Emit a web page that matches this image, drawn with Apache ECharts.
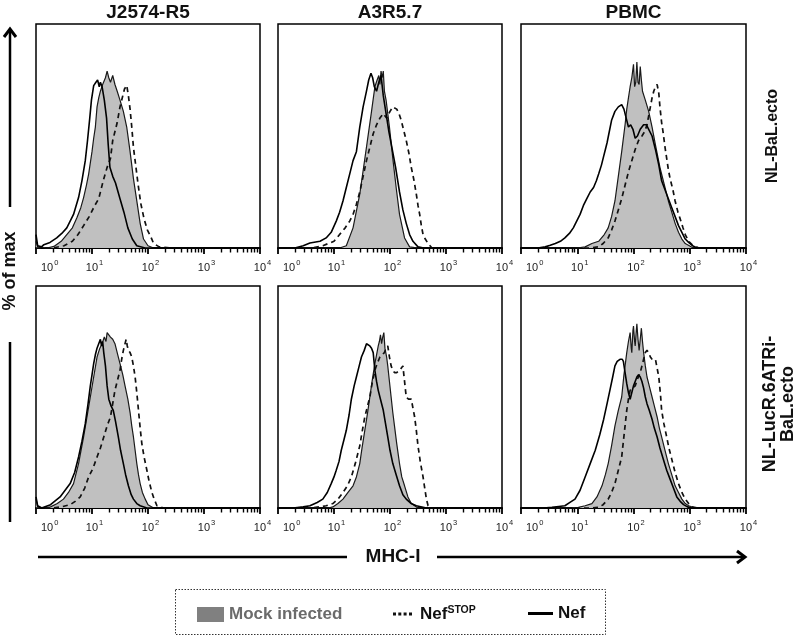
<!DOCTYPE html>
<html>
<head>
<meta charset="utf-8">
<script src="https://cdn.jsdelivr.net/npm/echarts@6/dist/echarts.min.js"></script>
<style>
html,body{margin:0;padding:0;background:#fff;}
#chart{width:795px;height:638px;}
</style>
</head>
<body>
<div id="chart"></div>
<script>
// ---------- labels ----------
const cellLines = ['J2574-R5', 'A3R5.7', 'PBMC'];
const viruses = ['NL-BaL.ecto', 'NL-LucR.6ATRi-\nBaL.ecto'];
const seriesNames = ['Mock infected', 'NefSTOP', 'Nef'];
const tickExponents = [0, 1, 2, 3, 4];          // x ticks: 10^0 ... 10^4
const minorMultipliers = [2, 3, 4, 5, 6, 7, 8, 9];
const yLabel = '% of max';
const xLabel = 'MHC-I';

// ---------- data: [log10(MHC-I), % of max] ----------
// Row 1: NL-BaL.ecto
const j2574_bal_mock = [[0,3],[0.03,0.5],[0.2,0],[0.32,0.7],[0.45,3],[0.55,6],[0.65,9],[0.73,13.5],[0.8,18],[0.85,22.5],[0.9,28],[0.94,33],[0.97,38],[1.0,43],[1.03,49],[1.06,54],[1.09,63],[1.12,67],[1.15,70],[1.19,73],[1.24,76],[1.27,79],[1.3,76],[1.33,74],[1.37,77],[1.41,73],[1.45,70],[1.5,66],[1.56,61],[1.62,54],[1.68,43],[1.74,31],[1.8,21],[1.86,11],[1.92,4],[2.0,1],[2.1,0],[4,0]];
const j2574_bal_nefstop = [[0,0],[0.3,0],[0.5,1],[0.65,3],[0.75,6],[0.85,10],[0.95,14],[1.05,19],[1.12,22],[1.2,30],[1.27,36],[1.33,40],[1.37,48],[1.41,52],[1.45,56],[1.5,63],[1.54,67],[1.58,71],[1.62,72.6],[1.65,68],[1.68,62],[1.71,54],[1.74,45],[1.78,37],[1.82,29],[1.87,20],[1.93,13],[1.99,8],[2.05,5],[2.1,2],[2.2,0.5],[2.4,0],[4,0]];
const j2574_bal_nef = [[0,6],[0.03,1],[0.1,0.5],[0.14,1.5],[0.25,2.5],[0.37,4.5],[0.46,6.5],[0.55,9],[0.67,15],[0.76,22.5],[0.82,30],[0.88,39],[0.92,48],[0.96,58],[0.99,66],[1.03,72.5],[1.07,74],[1.1,75],[1.13,72],[1.15,74],[1.18,72],[1.22,66],[1.26,58],[1.29,46],[1.32,36],[1.37,32],[1.42,29],[1.5,22],[1.57,16],[1.64,9],[1.72,4],[1.8,1],[1.95,0],[4,0]];

const a3r5_bal_mock = [[0,0],[1.1,0],[1.22,1],[1.34,9],[1.46,24],[1.58,45],[1.67,61],[1.73,72],[1.77,75],[1.8,77],[1.82,73],[1.84,79],[1.86,76],[1.88,79],[1.9,70],[1.93,66],[1.99,54],[2.05,40],[2.11,27],[2.17,15],[2.26,4.5],[2.35,0.5],[2.5,0],[4,0]];
const a3r5_bal_nefstop = [[0,0],[0.6,0],[0.8,1],[1.0,3],[1.1,6],[1.2,9],[1.28,12],[1.34,15],[1.4,19.5],[1.46,25],[1.52,32],[1.58,39],[1.64,45],[1.7,51],[1.76,55],[1.82,58],[1.88,60],[1.94,58],[2.0,61],[2.05,63],[2.08,63],[2.12,62],[2.16,60],[2.2,57],[2.25,52],[2.29,48],[2.34,42],[2.38,36],[2.43,30],[2.47,24],[2.5,19],[2.53,15],[2.56,10],[2.59,6],[2.63,4],[2.68,2],[2.75,0],[4,0]];
const a3r5_bal_nef = [[0,0],[0.3,0],[0.45,1],[0.57,2.2],[0.75,3],[0.86,4.5],[0.95,7],[1.04,12],[1.1,16],[1.16,21],[1.22,27],[1.28,33],[1.34,39],[1.4,43],[1.46,54],[1.52,63],[1.58,70],[1.62,75],[1.66,78],[1.69,76],[1.72,72],[1.76,70],[1.8,74],[1.84,77],[1.88,68],[1.93,60],[1.98,52],[2.04,44],[2.1,36],[2.17,25],[2.23,17],[2.29,11],[2.35,6],[2.41,3],[2.5,0.5],[2.6,0],[4,0]];

const pbmc_bal_mock = [[0,0],[1.0,0],[1.14,0.5],[1.26,2],[1.38,3],[1.48,6],[1.55,9],[1.61,14],[1.67,21],[1.73,32],[1.79,43],[1.85,55],[1.88,62],[1.91,67],[1.94,72],[1.97,76],[2.0,82],[2.02,72],[2.04,74],[2.06,83],[2.08,74],[2.1,73],[2.12,81],[2.14,75],[2.16,70],[2.21,66],[2.27,61],[2.33,54],[2.39,46],[2.47,36],[2.56,27],[2.62,21],[2.68,16],[2.74,11],[2.8,7],[2.86,4],[2.92,2],[3.04,0.3],[3.2,0],[4,0]];
const pbmc_bal_nefstop = [[0,0],[1.2,0],[1.38,0.5],[1.46,2],[1.55,4.5],[1.61,8],[1.67,12],[1.73,17],[1.79,22],[1.85,28],[1.91,34],[1.97,39],[2.03,44],[2.09,48],[2.15,50],[2.2,52],[2.24,55],[2.27,59],[2.3,63],[2.33,67],[2.36,70],[2.39,72],[2.42,73],[2.45,69],[2.47,63],[2.5,56],[2.53,51],[2.56,45],[2.59,40],[2.62,35],[2.65,31],[2.7,26],[2.74,21],[2.79,16],[2.83,13],[2.88,9],[2.92,6],[2.98,3],[3.04,1.5],[3.16,0],[4,0]];
const pbmc_bal_nef = [[0,0],[0.3,0],[0.43,0.5],[0.52,1.2],[0.61,2],[0.7,3],[0.78,4.5],[0.86,6.5],[0.93,9],[0.99,12],[1.05,15],[1.11,19],[1.17,22],[1.23,25],[1.29,27],[1.34,30],[1.38,33],[1.43,37],[1.47,41],[1.5,44],[1.53,47],[1.57,52],[1.61,57],[1.67,61],[1.73,63],[1.79,64],[1.83,62],[1.87,58],[1.91,54],[1.95,55],[1.99,53],[2.03,49],[2.07,50],[2.12,53],[2.18,55],[2.23,55],[2.27,53],[2.33,50],[2.39,44],[2.45,37],[2.5,30],[2.56,26],[2.62,22],[2.68,18],[2.74,14],[2.8,10],[2.86,7],[2.92,4],[2.98,2.5],[3.05,1],[3.13,0],[4,0]];

// Row 2: NL-LucR.6ATRi-BaL.ecto
const j2574_luc_mock = [[0,4],[0.03,0.5],[0.15,0],[0.26,0.5],[0.38,2],[0.49,4],[0.58,7],[0.67,11],[0.76,20],[0.85,32],[0.91,41],[0.97,50],[1.03,59],[1.09,68],[1.14,72],[1.18,74],[1.22,77],[1.25,75],[1.27,79],[1.3,78],[1.33,77],[1.37,76],[1.41,74],[1.46,69],[1.5,65],[1.55,60],[1.59,55],[1.64,49],[1.68,43],[1.71,37],[1.74,32],[1.77,26],[1.8,20],[1.83,15],[1.86,11],[1.9,7],[1.95,4],[2.0,1.5],[2.1,0],[4,0]];
const j2574_luc_nefstop = [[0,0],[0.31,0],[0.45,0.5],[0.61,1.5],[0.7,3],[0.79,5],[0.87,9],[0.94,14],[1.02,18],[1.09,23],[1.15,27],[1.21,32],[1.27,37],[1.33,41],[1.37,47],[1.41,53],[1.45,57],[1.5,62],[1.53,67],[1.56,71],[1.59,74],[1.61,76],[1.63,73],[1.65,71],[1.68,70],[1.71,68],[1.74,64],[1.77,59],[1.8,52],[1.83,44],[1.86,36],[1.89,29],[1.93,23],[1.98,17],[2.02,12],[2.07,7],[2.11,4],[2.16,1],[2.28,0],[4,0]];
const j2574_luc_nef = [[0,5],[0.03,1],[0.1,0],[0.26,1.5],[0.43,5],[0.52,8],[0.61,11],[0.69,16],[0.76,23],[0.82,30],[0.88,38],[0.93,47],[0.97,55],[1.0,60],[1.03,65],[1.06,69],[1.09,72],[1.12,74],[1.15,76],[1.17,73],[1.19,75],[1.21,70],[1.24,64],[1.27,55],[1.3,49],[1.34,46],[1.38,44],[1.42,39],[1.47,32],[1.51,26],[1.56,20],[1.6,15],[1.65,10],[1.7,6],[1.74,4],[1.8,2],[1.86,1],[1.98,0],[4,0]];

const a3r5_luc_mock = [[0,0],[0.9,0],[0.98,0.5],[1.07,2],[1.16,4],[1.25,7],[1.34,10],[1.4,14],[1.46,20],[1.5,27],[1.55,35],[1.6,43],[1.64,50],[1.68,57],[1.73,65],[1.76,69],[1.79,73],[1.81,75],[1.83,78],[1.85,74],[1.87,77],[1.89,79],[1.91,72],[1.94,68],[1.96,64],[1.99,57],[2.02,50],[2.05,43],[2.08,37],[2.12,29],[2.17,20],[2.21,14],[2.26,10],[2.32,5],[2.38,2],[2.5,0],[4,0]];
const a3r5_luc_nefstop = [[0,0],[0.6,0],[0.74,0.5],[0.86,1],[0.98,2],[1.07,4],[1.16,7],[1.24,10],[1.31,14],[1.38,20],[1.46,28],[1.5,34],[1.55,41],[1.6,46],[1.64,50],[1.68,56],[1.73,62],[1.77,65],[1.82,68],[1.86,69],[1.9,70],[1.93,72],[1.96,73],[1.99,68],[2.02,64],[2.05,62],[2.08,61],[2.12,61],[2.17,62],[2.2,63],[2.23,64],[2.26,57],[2.29,50],[2.33,49],[2.38,49],[2.41,45],[2.44,41],[2.47,35],[2.5,28],[2.54,21],[2.59,14],[2.62,9],[2.65,4],[2.68,1],[2.75,0],[4,0]];
const a3r5_luc_nef = [[0,0],[0.27,0],[0.45,0.5],[0.57,1],[0.7,2.5],[0.8,4],[0.88,7],[0.95,11],[1.0,14],[1.04,17],[1.09,21],[1.13,26],[1.18,31],[1.22,35],[1.27,42],[1.31,49],[1.36,55],[1.4,59],[1.45,64],[1.49,68],[1.54,71],[1.58,74],[1.61,74],[1.64,73],[1.67,72],[1.7,70],[1.73,62],[1.76,57],[1.79,53],[1.84,48],[1.88,44],[1.92,38],[1.96,32],[2.0,26],[2.05,20],[2.11,15],[2.17,10],[2.23,6],[2.29,4],[2.38,2],[2.47,1],[2.65,0],[4,0]];

const pbmc_luc_mock = [[0,0],[0.9,0],[1.02,0.3],[1.14,1],[1.26,2],[1.35,5],[1.44,10],[1.5,15],[1.55,20],[1.61,28],[1.67,37],[1.73,44],[1.79,50],[1.83,60],[1.88,70],[1.91,75],[1.94,79],[1.96,72],[1.97,70],[1.99,80],[2.0,82],[2.02,75],[2.03,73],[2.05,80],[2.06,83],[2.08,76],[2.1,71],[2.12,76],[2.14,81],[2.16,75],[2.18,70],[2.21,64],[2.24,59],[2.28,55],[2.33,50],[2.37,46],[2.42,41],[2.46,36],[2.5,32],[2.56,26],[2.62,20],[2.68,15],[2.74,10],[2.8,7],[2.86,4],[2.92,2],[2.98,1],[3.1,0],[4,0]];
const pbmc_luc_nefstop = [[0,0],[1.25,0],[1.38,0.3],[1.46,1.5],[1.55,4],[1.61,7],[1.67,11],[1.73,17],[1.79,23],[1.82,30],[1.85,37],[1.88,44],[1.91,49],[1.94,53],[1.98,54],[2.03,55],[2.07,58],[2.12,61],[2.16,65],[2.19,68],[2.21,70],[2.24,71],[2.27,70],[2.3,68],[2.33,67],[2.36,67],[2.39,67],[2.42,63],[2.45,59],[2.48,51],[2.5,44],[2.54,38],[2.59,32],[2.63,27],[2.68,22],[2.74,16],[2.8,11],[2.86,7],[2.92,4],[2.98,2],[3.04,0.5],[3.15,0],[4,0]];
const pbmc_luc_nef = [[0,0],[0.4,0],[0.55,0.3],[0.67,0.7],[0.78,1],[0.87,2.5],[0.96,4],[1.05,8],[1.14,14],[1.23,20],[1.32,26],[1.4,33],[1.47,40],[1.53,47],[1.58,53],[1.63,59],[1.67,64],[1.71,66],[1.76,67],[1.8,67],[1.82,66],[1.85,61],[1.88,56],[1.91,52],[1.94,49],[1.97,52],[2.0,55],[2.03,57],[2.06,59],[2.09,60],[2.12,59],[2.15,57],[2.18,54],[2.21,50],[2.24,47],[2.28,44],[2.33,40],[2.37,36],[2.42,32],[2.47,27],[2.53,22],[2.59,17],[2.65,13],[2.71,9],[2.77,5],[2.83,3],[2.89,1.5],[2.96,0.5],[3.04,0],[4,0]];

// panels in reading order (row by row)
const panels = [
  [j2574_bal_mock, j2574_bal_nefstop, j2574_bal_nef],
  [a3r5_bal_mock, a3r5_bal_nefstop, a3r5_bal_nef],
  [pbmc_bal_mock, pbmc_bal_nefstop, pbmc_bal_nef],
  [j2574_luc_mock, j2574_luc_nefstop, j2574_luc_nef],
  [a3r5_luc_mock, a3r5_luc_nefstop, a3r5_luc_nef],
  [pbmc_luc_mock, pbmc_luc_nefstop, pbmc_luc_nef]
];

// ---------- layout ----------
const FONT = '"Liberation Sans", Arial, Helvetica, sans-serif';
const colLeft = [36, 278, 521];
const colWidth = [224, 224, 225];
const rowTop = [24, 286];
const rowHeight = [224, 222];

const minorTicks = [];
tickExponents.slice(0, -1).forEach(e => minorMultipliers.forEach(m => minorTicks.push(e + Math.log10(m))));

const grids = [], xAxes = [], minorAxes = [], yAxes = [], series = [];
for (let r = 0; r < 2; r++) {
  for (let c = 0; c < 3; c++) {
    const gi = r * 3 + c;
    grids.push({left: colLeft[c], top: rowTop[r], width: colWidth[c], height: rowHeight[r],
      show: true, borderColor: '#000', borderWidth: 1.5, backgroundColor: 'transparent'});
    xAxes.push({
      type: 'value', gridIndex: gi, position: 'bottom', min: 0, max: 4, interval: 1,
      axisLine: {show: true, onZero: false, lineStyle: {color: '#000', width: 2}},
      axisTick: {show: true, length: 6, lineStyle: {color: '#000', width: 1.8}},
      splitLine: {show: false},
      axisLabel: {
        margin: 11, color: '#222', alignMinLabel: 'left',
        formatter: v => '{b|10}{s|' + v + '}',
        rich: {
          b: {fontFamily: FONT, fontSize: 11, color: '#222', lineHeight: 14, verticalAlign: 'bottom', padding: [0, 0, 0, 5]},
          s: {fontFamily: FONT, fontSize: 7.5, color: '#222', lineHeight: 14, verticalAlign: 'top', padding: [0, 0, 4, 1]}
        }
      }
    });
    // companion axis carrying the log minor ticks (2..9 per decade)
    minorAxes.push({
      type: 'value', gridIndex: gi, position: 'bottom', min: 0, max: 4,
      axisLine: {show: false}, axisLabel: {show: false}, splitLine: {show: false},
      axisTick: {show: true, length: 4.5, customValues: minorTicks, lineStyle: {color: '#000', width: 1.4}}
    });
    yAxes.push({type: 'value', gridIndex: gi, min: 0, max: 100, show: false});
    const [mock, nefstop, nef] = panels[gi];
    series.push({
      type: 'line', name: seriesNames[0], xAxisIndex: gi, yAxisIndex: gi, data: mock,
      symbol: 'none', z: 2, silent: true,
      lineStyle: {color: '#1a1a1a', width: 1.2},
      itemStyle: {color: '#808080'},
      areaStyle: {color: '#c0c0c0', opacity: 1}
    });
    series.push({
      type: 'line', name: seriesNames[1], xAxisIndex: gi, yAxisIndex: gi, data: nefstop,
      symbol: 'none', z: 3, silent: true,
      lineStyle: {color: '#111', width: 1.7, type: [5, 4]},
      itemStyle: {color: '#111'}
    });
    series.push({
      type: 'line', name: seriesNames[2], xAxisIndex: gi, yAxisIndex: gi, data: nef,
      symbol: 'none', z: 4, silent: true,
      lineStyle: {color: '#000', width: 1.6},
      itemStyle: {color: '#000'}
    });
  }
}

// ---------- annotations ----------
const graphics = [];
const centerText = (x, y, text, font, extra) => Object.assign({type: 'text', x: x, y: y,
  style: Object.assign({text: text, font: font, fill: '#111', align: 'center', verticalAlign: 'middle',
    textAlign: 'center', textVerticalAlign: 'middle'}, extra || {})});
cellLines.forEach((name, c) => graphics.push(centerText(colLeft[c] + colWidth[c] / 2, 13, name, 'bold 19px ' + FONT)));
graphics.push(Object.assign(centerText(773, 136, viruses[0], 'bold 16px ' + FONT), {rotation: Math.PI / 2}));
graphics.push(Object.assign(centerText(779, 404, viruses[1], 'bold 18px ' + FONT, {lineHeight: 18}), {rotation: Math.PI / 2}));
// y-axis arrow + label
graphics.push({type: 'polyline', shape: {points: [[10, 30], [10, 207]]}, style: {stroke: '#000', lineWidth: 2.5}});
graphics.push({type: 'polyline', shape: {points: [[4, 37], [10, 29], [16, 37]]}, style: {stroke: '#000', lineWidth: 3, fill: null}});
graphics.push({type: 'polyline', shape: {points: [[10, 342], [10, 522]]}, style: {stroke: '#000', lineWidth: 2.5}});
graphics.push(Object.assign(centerText(10, 271, yLabel, 'bold 18px ' + FONT), {rotation: Math.PI / 2}));
// x-axis arrow + label
graphics.push({type: 'polyline', shape: {points: [[38, 557], [347, 557]]}, style: {stroke: '#000', lineWidth: 2.5}});
graphics.push({type: 'polyline', shape: {points: [[437, 557], [744, 557]]}, style: {stroke: '#000', lineWidth: 2.5}});
graphics.push({type: 'polyline', shape: {points: [[737, 551], [745, 557], [737, 563]]}, style: {stroke: '#000', lineWidth: 3, fill: null}});
graphics.push(centerText(393, 557, xLabel, 'bold 19px ' + FONT));
// legend frame
graphics.push({type: 'rect', shape: {x: 175.5, y: 589.5, width: 430, height: 45},
  style: {fill: null, stroke: '#333', lineWidth: 1, lineDash: [1.5, 1.5]}});

const legendText = {fontFamily: FONT, fontWeight: 'bold', fontSize: 17, color: '#111',
  rich: {sup: {fontFamily: FONT, fontWeight: 'bold', fontSize: 10.5, color: '#111', verticalAlign: 'top', padding: [0, 0, 7, 0]}}};
const legendFmt = n => n === 'NefSTOP' ? 'Nef{sup|STOP}' : n;

const chart = echarts.init(document.getElementById('chart'), null, {renderer: 'canvas'});
chart.setOption({
  animation: false,
  backgroundColor: '#fff',
  grid: grids, xAxis: xAxes.concat(minorAxes), yAxis: yAxes, series: series,
  graphic: graphics,
  legend: [
    {left: 192, top: 601, itemWidth: 27, itemHeight: 15, selectedMode: false, formatter: legendFmt,
      textStyle: Object.assign({}, legendText, {color: '#6b6b6b'}),
      data: [{name: 'Mock infected', icon: 'rect', itemStyle: {color: '#808080', borderWidth: 0}}]},
    {left: 388, top: 600, itemWidth: 19, itemHeight: 3, selectedMode: false, formatter: legendFmt,
      textStyle: Object.assign({}, legendText, {padding: [0, 0, 0, 3]}),
      data: [{name: 'NefSTOP', icon: 'path://M0,0h3v3h-3zM5.3,0h3v3h-3zM10.6,0h3v3h-3zM16,0h3v3h-3z',
        itemStyle: {color: '#111', borderWidth: 0}}]},
    {left: 523, top: 600, itemWidth: 25, itemHeight: 3, selectedMode: false, formatter: legendFmt,
      textStyle: Object.assign({}, legendText),
      data: [{name: 'Nef', icon: 'rect', itemStyle: {color: '#000', borderWidth: 0}}]}
  ]
});
</script>
</body>
</html>
